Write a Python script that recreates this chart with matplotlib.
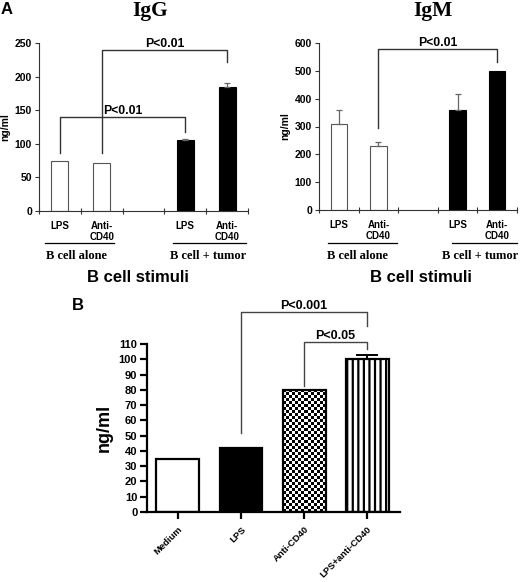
import numpy as np
import matplotlib
matplotlib.use("Agg")
import matplotlib.pyplot as plt
from matplotlib.transforms import blended_transform_factory

plt.rcParams['hatch.linewidth'] = 1.6
SANS = 'Liberation Sans'
SERIF = 'Liberation Serif'

# ---------------- data ----------------
a_categories = ["LPS", "Anti-\nCD40", "", "LPS", "Anti-\nCD40"]
a_groups = ["B cell alone", "B cell + tumor"]
igg_values = [75, 72, 0, 105, 185]
igg_err = [0, 0, 0, 2.5, 5]
igm_values = [310, 230, 0, 360, 500]
igm_err = [50, 15, 0, 57, 0]
a_colors = ["white", "white", "white", "black", "black"]
igg_ticks = [0, 50, 100, 150, 200, 250]
igm_ticks = [0, 100, 200, 300, 400, 500, 600]
# brackets: (x_left, x_right, y_left_leg, y_right_leg, y_top, label)
igg_brackets = [(0, 3, 86, 118, 140, "P<0.01"), (1, 4, 86, 222, 240, "P<0.01")]
igm_brackets = [(1, 4, 295, 532, 578, "P<0.01")]

b_categories = ["Medium", "LPS", "Anti-CD40", "LPS+anti-CD40"]
b_values = [35, 42, 80, 100]
b_err = [0.3, 0.3, 0.5, 3]
b_ticks = list(range(0, 111, 10))
b_brackets = [(1, 3, 52, 122, 131, "P<0.001"), (2, 3, 82.5, 107, 111, "P<0.05")]

W, H = 520, 582
fig = plt.figure(figsize=(W / 100, H / 100), dpi=100)


def fx(px):
    return px / W


def fy(py):
    return 1 - py / H


def draw_bracket(ax, spec, fs, color="#333333", lw=1.0):
    x1, x2, y1, y2, yt, lab = spec
    ax.plot([x1, x1, x2, x2], [y1, yt, yt, y2], color=color, lw=lw, clip_on=False)
    ax.text((x1 + x2) / 2, yt, lab, ha='center', va='bottom', fontsize=fs,
            fontweight='bold', family=SANS, clip_on=False)


def panel_a(rect, values, err, ticks, brackets, title, title_x, grp_centers, grp_lines):
    ax = fig.add_axes(rect)
    x = np.arange(len(values))
    for i in range(len(values)):
        if values[i] == 0:
            continue
        ax.bar(x[i], values[i], width=0.41, color=a_colors[i],
               edgecolor="#555555" if a_colors[i] == "white" else "black", lw=0.8, zorder=2)
        if err[i] > 0:
            ax.errorbar(x[i], values[i], yerr=[[0], [err[i]]], fmt='none',
                        ecolor="#666666", elinewidth=0.9, capsize=2.5, capthick=0.9, zorder=3)
    ax.set_xlim(-0.5, len(values) - 0.5)
    ax.set_ylim(ticks[0], ticks[-1])
    ax.set_yticks(ticks)
    ax.set_yticklabels([str(t) for t in ticks], fontsize=7.5, fontweight='bold', family=SANS)
    ax.set_xticks(np.arange(len(values) + 1) - 0.5)
    ax.set_xticklabels([])
    ax.set_xticks(x, a_categories, minor=True)
    for lab in ax.get_xticklabels(minor=True):
        lab.set_fontsize(7)
        lab.set_fontweight('bold')
        lab.set_family(SANS)
    ax.tick_params(axis='x', which='minor', length=0, pad=7)
    ax.tick_params(axis='x', which='major', direction='inout', length=5, width=0.8, color="#333333")
    ax.tick_params(axis='y', direction='out', length=3, width=0.8, color="#333333", pad=2)
    for s in ['top', 'right']:
        ax.spines[s].set_visible(False)
    for s in ['left', 'bottom']:
        ax.spines[s].set_linewidth(0.8)
        ax.spines[s].set_color("#333333")
    ax.set_ylabel("ng/ml", fontsize=7.5, fontweight='bold', family=SANS, labelpad=3)
    for b in brackets:
        draw_bracket(ax, b, fs=8.8)
    tr = blended_transform_factory(ax.transData, fig.transFigure)
    for (c, (l1, l2), g) in zip(grp_centers, grp_lines, a_groups):
        ax.plot([l1, l2], [fy(243), fy(243)], color='black', lw=0.9, transform=tr, clip_on=False)
        ax.text(c, fy(256), g, ha='center', va='center', fontsize=9, fontweight='bold',
                family=SERIF, transform=tr)
    fig.text(fx(title_x), fy(11), title, ha='center', va='center', fontsize=15.5,
             fontweight='bold', family=SERIF)
    fig.text(fx(title_x - 12), fy(277), "B cell stimuli", ha='center', va='center',
             fontsize=12, fontweight='bold', family=SANS)
    return ax


panel_a([fx(39), fy(211), fx(248) - fx(39), (211 - 43) / H], igg_values, igg_err, igg_ticks,
        igg_brackets, "IgG", 150, [0.4, 3.55], [(-0.35, 1.3), (2.7, 4.45)])
panel_a([fx(319), fy(210), fx(517) - fx(319), (210 - 43) / H], igm_values, igm_err, igm_ticks,
        igm_brackets, "IgM", 433, [0.48, 3.57], [(-0.27, 1.47), (2.86, 4.5)])

fig.text(fx(1), fy(9), "A", ha='left', va='center', fontsize=12, fontweight='bold', family=SANS)
fig.text(fx(72), fy(305), "B", ha='left', va='center', fontsize=12, fontweight='bold', family=SANS)

# ---------------- panel B ----------------
axb = fig.add_axes([fx(147), fy(512), fx(400) - fx(147), (512 - 344) / H])
xb = np.arange(len(b_values))
bw = 0.68
styles = [dict(color='white'), dict(color='black'), dict(color='none'),
          dict(color='white', hatch='|||')]
bars = []
for i in range(len(b_values)):
    r = axb.bar(xb[i], b_values[i], width=bw, edgecolor='black', lw=1.6, zorder=2, **styles[i])
    bars.append(r[0])
    axb.errorbar(xb[i], b_values[i], yerr=[[0], [b_err[i]]], fmt='none', ecolor='black',
                 elinewidth=1.4, capsize=8 if i == 3 else 0, capthick=1.4, zorder=3)
# checkerboard fill for the Anti-CD40 bar
p = bars[2]
ncols = 14
nrows = int(round(b_values[2] / 110 * 168 / 3))
checker = (np.add.outer(np.arange(nrows), np.arange(ncols)) % 2).astype(float)
im = axb.imshow(checker, cmap='gray', extent=[p.get_x(), p.get_x() + p.get_width(), 0, b_values[2]],
                aspect='auto', interpolation='nearest', zorder=1.5)
im.set_clip_path(p)
axb.set_xlim(-0.49, 3.52)
axb.set_ylim(0, 110)
axb.set_yticks(b_ticks)
axb.set_yticklabels([str(t) for t in b_ticks], fontsize=8, fontweight='bold', family=SANS)
axb.set_xticks(xb)
axb.set_xticklabels(b_categories, rotation=45, ha='right', rotation_mode='anchor',
                    fontsize=6.8, fontweight='bold', family=SANS)
axb.tick_params(axis='both', direction='out', length=5, width=1.6, pad=2)
axb.tick_params(axis='x', pad=4)
for s in ['top', 'right']:
    axb.spines[s].set_visible(False)
for s in ['left', 'bottom']:
    axb.spines[s].set_linewidth(1.6)
axb.set_ylabel("ng/ml", fontsize=13, fontweight='bold', family=SANS, labelpad=4)
for b in b_brackets:
    draw_bracket(axb, b, fs=9, color="#444444", lw=1.0)

fig.savefig("out.png", dpi=100)
